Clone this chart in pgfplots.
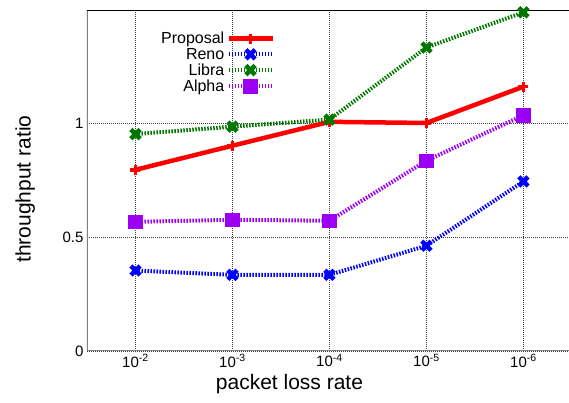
\documentclass[border=0pt]{standalone}
\usepackage{pgfplots}
\pgfplotsset{compat=1.18}
\usepackage{fontspec}
\setmainfont{Liberation Sans}
\definecolor{cred}{RGB}{255,0,0}
\definecolor{cblue}{RGB}{0,0,255}
\definecolor{cgreen}{RGB}{0,120,0}
\definecolor{cpurple}{RGB}{155,0,245}
\definecolor{axgray}{RGB}{128,128,128}
\begin{document}
\begin{tikzpicture}
\path[use as bounding box] (-87pt,-52pt) rectangle (482pt,351pt);
\begin{axis}[
  at={(0pt,0pt)}, anchor=south west,
  scale only axis, width=482pt, height=341pt,
  xmin=0.5, xmax=5.47, ymin=0, ymax=1.5,
  xtick={1,2,3,4,5},
  xticklabels={10\textsuperscript{-2},10\textsuperscript{-3},10\textsuperscript{-4},10\textsuperscript{-5},10\textsuperscript{-6}},
  ytick={0,0.5,1}, yticklabels={0,0.5,1},
  grid=major, grid style={black!75, dash pattern=on 1pt off 1pt, line width=0.6pt},
  major tick length=0pt,
  axis line style={draw=none},
  tick label style={font=\fontsize{15}{17}\selectfont},
  xlabel={packet loss rate}, ylabel={throughput ratio},
  label style={font=\fontsize{21}{25}\selectfont},
  xlabel style={at={(axis description cs:0.42,-0.097)}, anchor=center},
  ylabel style={at={(axis description cs:-0.128,0.475)}, anchor=center},
  legend style={at={(axis description cs:0.39,0.942)}, anchor=north east, draw=none, fill=none,
    font=\fontsize{16}{17}\selectfont, inner sep=0pt, row sep=-1pt, cells={anchor=east}},
  legend plot pos=right,
  legend image code/.code={\draw[mark repeat=2,mark phase=2,#1] plot coordinates {(0pt,0pt)(22pt,0pt)(44pt,0pt)};},
]
\addplot[cred, line width=4.5pt, mark=+, mark size=5pt, mark options={solid, line width=3.5pt}]
  coordinates {(1,0.797) (2,0.903) (3,1.008) (4,1.003) (5,1.163)};
\addlegendentry{Proposal}
\addplot[cblue, line width=4pt, dash pattern=on 1.5pt off 1.5pt, mark=x, mark size=6.5pt, mark options={solid, line width=4.5pt}]
  coordinates {(1,0.354) (2,0.335) (3,0.335) (4,0.463) (5,0.746)};
\addlegendentry{Reno}
\addplot[cgreen, line width=4pt, dash pattern=on 1.5pt off 1.5pt, mark=x, mark size=6.5pt, mark options={solid, line width=4.5pt}]
  coordinates {(1,0.954) (2,0.987) (3,1.018) (4,1.335) (5,1.49)};
\addlegendentry{Libra}
\addplot[cpurple, line width=4pt, dash pattern=on 1.5pt off 1.5pt, mark=square*, mark size=6.8pt, mark options={solid, line width=0.5pt}]
  coordinates {(1,0.568) (2,0.577) (3,0.573) (4,0.837) (5,1.037)};
\addlegendentry{Alpha}
\draw[axgray, line width=1.5pt] (rel axis cs:0,1) -- (rel axis cs:0,0) -- (rel axis cs:1,0);
\draw[black, line width=0.8pt] (rel axis cs:0,1) -- (rel axis cs:1,1);
\end{axis}
\end{tikzpicture}
\end{document}
